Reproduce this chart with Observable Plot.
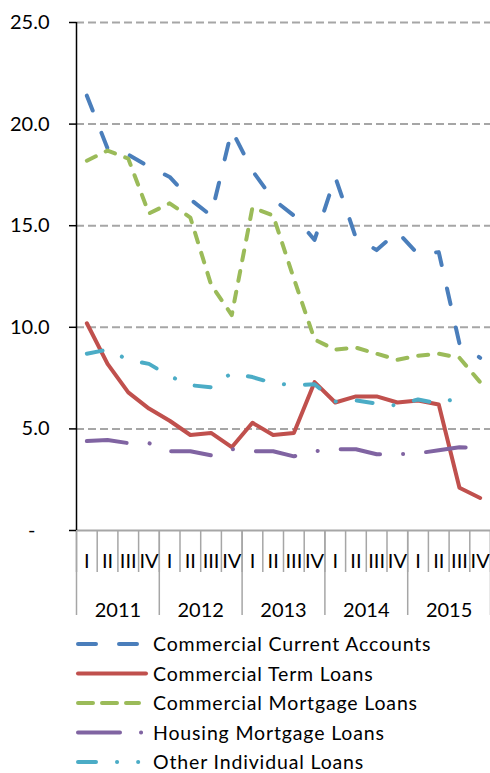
<!DOCTYPE html>
<html><head><meta charset="utf-8">
<script src="https://cdn.jsdelivr.net/npm/d3@7"></script>
<script src="https://cdn.jsdelivr.net/npm/@observablehq/plot@0.6"></script>
<style>
body{margin:0;background:#fff;font-family:Lato,sans-serif;overflow:hidden;}
#legend text{font-family:Lato,sans-serif;font-size:19.5px;letter-spacing:0.85px;fill:#000;}
</style></head><body><div id="chart"></div><div id="legend"></div>
<script>
const quarters = ["I", "II", "III", "IV"];
const years = ["2011", "2012", "2013", "2014", "2015"];
const yTicks = [5, 10, 15, 20, 25];

const seriesNames = [
  "Commercial Current Accounts",
  "Commercial Term Loans",
  "Commercial Mortgage Loans",
  "Housing Mortgage Loans",
  "Other Individual Loans"
];
const seriesColors = ["#4a7ebb", "#c0504d", "#9bbb59", "#8064a2", "#4bacc6"];
const seriesDash = ["16,24", null, "10,11", "40,23,0.1,23", "16,21,0.1,21"];

const currentAccounts = [21.4, 18.8, 18.5, 17.9, 17.4, 16.3, 15.5, 19.7, 17.7, 16.3, 15.5, 14.3, 17.4, 14.4, 13.8, 14.7, 13.6, 13.7, 9.2, 8.5];
const termLoans       = [10.2, 8.2, 6.8, 6.0, 5.4, 4.7, 4.8, 4.1, 5.3, 4.7, 4.8, 7.3, 6.3, 6.6, 6.6, 6.3, 6.4, 6.2, 2.1, 1.6];
const mortgageLoans   = [18.2, 18.7, 18.3, 15.6, 16.1, 15.4, 12.1, 10.6, 15.9, 15.5, 12.4, 9.4, 8.9, 9.0, 8.7, 8.4, 8.6, 8.7, 8.5, 7.3];
const housingLoans    = [4.4, 4.45, 4.3, 4.3, 3.9, 3.9, 3.7, 4.0, 3.9, 3.9, 3.65, 3.9, 4.0, 4.0, 3.75, 3.75, 3.8, 3.95, 4.1, 4.05];
const otherLoans      = [8.7, 8.9, 8.4, 8.2, 7.6, 7.15, 7.05, 7.75, 7.55, 7.25, 7.15, 7.2, 6.35, 6.4, 6.25, 6.15, 6.45, 6.25, 6.55, null];

const seriesValues = [currentAccounts, termLoans, mortgageLoans, housingLoans, otherLoans];

const periods = years.flatMap(y => quarters.map(q => ({year: y, quarter: q})));
const seriesData = seriesValues.map((vals, s) =>
  vals.map((v, i) => ({series: seriesNames[s], i: i + 0.5, value: v}))
      .filter(d => d.value != null));

const gray = "#a6a6a6";
const lineMarks = seriesData.map((data, s) => Plot.line(data, {
  x: "i", y: "value",
  stroke: seriesColors[s], strokeWidth: 4,
  strokeLinecap: "round", strokeLinejoin: "round",
  strokeDasharray: seriesDash[s] || undefined
}));

const chart = Plot.plot({
  width: 490, height: 625,
  marginLeft: 76, marginRight: 0, marginTop: 22, marginBottom: 95,
  style: {fontFamily: "Lato, sans-serif", fontSize: "20px", color: "#000", background: "#fff"},
  x: {domain: [0, periods.length], axis: null},
  y: {domain: [0, 25], axis: null},
  marks: [
    Plot.gridY(yTicks, {stroke: gray, strokeOpacity: 1, strokeWidth: 2, strokeDasharray: "8,4"}),
    Plot.ruleY([0], {stroke: gray, strokeWidth: 2}),
    Plot.axisX(d3.range(0, periods.length + 1), {tickSize: 42, tickFormat: () => "", stroke: gray, strokeWidth: 1.5, label: null}),
    Plot.axisX(d3.range(0, periods.length + 1, 4), {tickSize: 85, tickFormat: () => "", stroke: gray, strokeWidth: 1.5, label: null}),
    Plot.axisX(periods.map((p, i) => i + 0.5), {tickSize: 0, tickPadding: 23, tickFormat: d => periods[Math.floor(d)].quarter, label: null}),
    Plot.axisX(years.map((y, k) => k * 4 + 2), {tickSize: 0, tickPadding: 72, tickFormat: d => years[(d - 2) / 4], label: null}),
    Plot.ruleX([0], {stroke: "#000", strokeWidth: 1.5}),
    Plot.axisY(yTicks, {tickSize: 7, tickPadding: 20, tickFormat: d => d.toFixed(1), stroke: "#000", strokeWidth: 1.5, label: null}),
    Plot.axisY([0], {tickSize: 7, tickPadding: 34, tickFormat: () => "-", stroke: "#000", strokeWidth: 1.5, label: null}),
    ...lineMarks
  ]
});
document.getElementById("chart").appendChild(chart);

// Legend
const legendSwatches = [
  {dash: "18,23", x2: 137},
  {dash: null, x2: 146},
  {dash: "15,9", x2: 139},
  {dash: "42,21,0.1,40", x2: 144},
  {dash: "18,21,0.1,21,0.1,40", x2: 145}
];
const lg = d3.select("#legend").append("svg").attr("width", 490).attr("height", 148).style("display", "block");
seriesNames.forEach((name, s) => {
  const y = 19 + s * 29.5;
  lg.append("line").attr("x1", 78).attr("x2", legendSwatches[s].x2).attr("y1", y).attr("y2", y)
    .attr("stroke", seriesColors[s]).attr("stroke-width", 4).attr("stroke-linecap", "round")
    .attr("stroke-dasharray", legendSwatches[s].dash);
  lg.append("text").attr("x", 153).attr("y", y).attr("dy", "0.36em").text(name);
});
</script></body></html>
